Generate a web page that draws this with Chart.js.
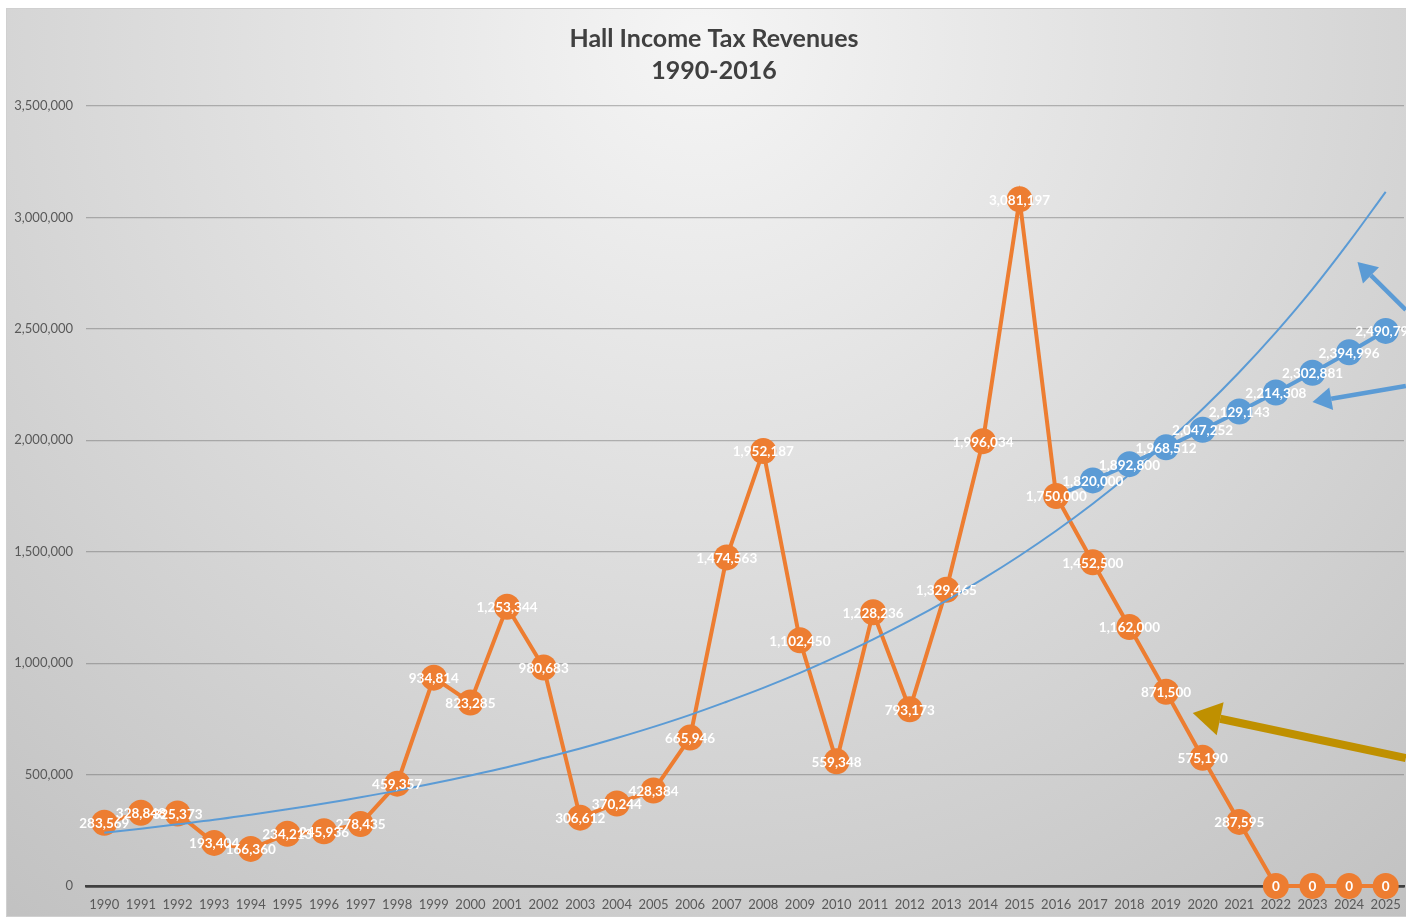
<!DOCTYPE html>
<html>
<head>
<meta charset="utf-8">
<title>Hall Income Tax Revenues</title>
<script src="https://cdn.jsdelivr.net/npm/chart.js@4/dist/chart.umd.min.js"></script>
<style>
  html, body { margin: 0; padding: 0; background: #fff; }
  #wrap { width: 1406px; height: 917px; }
</style>
</head>
<body>
<div id="wrap"><canvas id="hallChart" width="1406" height="917"></canvas></div>
<script>
// years on the category axis
const years = ['1990', '1991', '1992', '1993', '1994', '1995', '1996', '1997', '1998', '1999',
  '2000', '2001', '2002', '2003', '2004', '2005', '2006', '2007', '2008', '2009',
  '2010', '2011', '2012', '2013', '2014', '2015', '2016', '2017', '2018', '2019',
  '2020', '2021', '2022', '2023', '2024', '2025'];

// actual + phase-out revenues (orange)
const hallRevenue = [283569, 328848, 325373, 193404, 166360, 234213, 245936, 278435, 459357, 934814,
  823285, 1253344, 980683, 306612, 370244, 428384, 665946, 1474563, 1952187, 1102450,
  559348, 1228236, 793173, 1329465, 1996034, 3081197, 1750000, 1452500, 1162000, 871500,
  575190, 287595, 0, 0, 0, 0];

// projected revenues without phase-out (blue), starting from 2016
const projectedRevenue = [null, null, null, null, null, null, null, null, null, null,
  null, null, null, null, null, null, null, null, null, null,
  null, null, null, null, null, null, 1750000, 1820000, 1892800, 1968512,
  2047252, 2129143, 2214308, 2302881, 2394996, 2490796];

// trend line
const trendValues = [239000, 257000, 277000, 297000, 320000, 344000, 370000, 398000, 428000, 461000,
  496000, 533000, 574000, 617000, 664000, 714000, 768000, 827000, 889000, 956000,
  1029000, 1107000, 1191000, 1281000, 1378000, 1482000, 1594000, 1715000, 1846000, 1988000,
  2140000, 2305000, 2484000, 2678000, 2890000, 3115000];

const yMax = 3500000;
const yStep = 500000;
const titleLines = ['Hall Income Tax Revenues', '1990-2016'];

// annotation arrows, in (category index, value) coordinates
const arrows = [
  { from: [35.55, 2584600], to: [34.23, 2800000], color: '#5B9BD5', width: 4.5, head: 19 },
  { from: [35.55, 2243600], to: [33.0, 2171800], color: '#5B9BD5', width: 4.5, head: 19 },
  { from: [35.55, 574300], to: [29.73, 776300], color: '#BF9000', width: 8, head: 28 }
];

const fmt = v => Number(v).toLocaleString('en-US');

// gray gradient panel behind the chart, plus the two-line title
const panelBg = {
  id: 'panelBg',
  beforeDraw(chart) {
    const c = chart.ctx;
    c.save();
    c.fillStyle = '#ffffff';
    c.fillRect(0, 0, chart.width, chart.height);
    const g = c.createRadialGradient(700, 40, 0, 700, 40, 1150);
    g.addColorStop(0, '#f5f5f5');
    g.addColorStop(1, '#c0c0c0');
    c.fillStyle = g;
    c.fillRect(6, 8, chart.width - 6, chart.height - 9);
    c.strokeStyle = '#d0d0d0';
    c.lineWidth = 1;
    c.strokeRect(6.5, 8.5, chart.width - 6, chart.height - 9);

    c.fillStyle = '#404040';
    c.font = 'bold 25px Lato';
    c.textAlign = 'center';
    c.textBaseline = 'middle';
    c.fillText(titleLines[0], 714, 39);
    c.fillText(titleLines[1], 714, 71);
    c.restore();
  }
};

// white value labels centred on the markers
const valueLabels = {
  id: 'valueLabels',
  afterDatasetsDraw(chart) {
    const c = chart.ctx;
    c.save();
    c.font = 'bold 13.5px Lato';
    c.fillStyle = '#ffffff';
    c.textAlign = 'center';
    c.textBaseline = 'middle';
    chart.data.datasets.forEach((ds, i) => {
      if (!ds.showLabels) return;
      const meta = chart.getDatasetMeta(i);
      meta.data.forEach((pt, j) => {
        const v = ds.data[j];
        if (v === null || (ds.skipLabel && ds.skipLabel.includes(j))) return;
        c.fillText(fmt(v), pt.x, pt.y + 1);
      });
    });
    c.restore();
  }
};

// arrows drawn through the scales
const arrowLayer = {
  id: 'arrowLayer',
  afterDraw(chart) {
    const c = chart.ctx;
    const xs = chart.scales.x, ys = chart.scales.y;
    c.save();
    arrows.forEach(a => {
      const x1 = xs.getPixelForValue(a.from[0]), y1 = ys.getPixelForValue(a.from[1]);
      const x2 = xs.getPixelForValue(a.to[0]), y2 = ys.getPixelForValue(a.to[1]);
      const ang = Math.atan2(y2 - y1, x2 - x1);
      const bx = x2 - a.head * Math.cos(ang), by = y2 - a.head * Math.sin(ang);
      c.strokeStyle = a.color;
      c.fillStyle = a.color;
      c.lineWidth = a.width;
      c.beginPath();
      c.moveTo(x1, y1);
      c.lineTo(bx, by);
      c.stroke();
      const hw = a.head * 0.6;
      c.beginPath();
      c.moveTo(x2, y2);
      c.lineTo(bx + hw * Math.sin(ang), by - hw * Math.cos(ang));
      c.lineTo(bx - hw * Math.sin(ang), by + hw * Math.cos(ang));
      c.closePath();
      c.fill();
    });
    c.restore();
  }
};

const ctx = document.getElementById('hallChart').getContext('2d');
new Chart(ctx, {
  type: 'line',
  data: {
    labels: years,
    datasets: [
      {
        label: 'Trend',
        data: trendValues,
        borderColor: '#5B9BD5',
        borderWidth: 2,
        pointRadius: 0,
        tension: 0.4,
        order: 0
      },
      {
        label: 'Hall Income Tax Revenues',
        data: hallRevenue,
        borderColor: '#ED7D31',
        backgroundColor: '#ED7D31',
        borderWidth: 4,
        pointRadius: 13,
        pointBorderWidth: 0,
        showLabels: true,
        clip: false,
        order: 1
      },
      {
        label: 'Projected',
        data: projectedRevenue,
        borderColor: '#5B9BD5',
        backgroundColor: '#5B9BD5',
        borderWidth: 4,
        pointRadius: projectedRevenue.map((v, i) => i === 26 ? 0 : 13),
        pointBorderWidth: 0,
        showLabels: true,
        skipLabel: [26],
        clip: false,
        order: 2
      }
    ]
  },
  options: {
    responsive: false,
    animation: false,
    events: [],
    layout: { autoPadding: false, padding: { top: 106, right: 2, bottom: 0, left: 0 } },
    plugins: {
      legend: { display: false },
      tooltip: { enabled: false },
      title: { display: false }
    },
    scales: {
      x: {
        offset: true,
        grid: { display: false, drawTicks: false },
        border: { display: true, color: '#404040', width: 2.5 },
        ticks: { color: '#595959', font: { family: 'Lato', size: 13 }, padding: 11, maxRotation: 0, autoSkip: false },
        afterFit(scale) {
          scale.height = 31;
          scale.paddingLeft = 0;
          scale.paddingRight = 0;
        }
      },
      y: {
        min: 0,
        max: yMax,
        grid: {
          drawTicks: false,
          color: c => c.tick.value === 0 ? '#404040' : 'rgba(100,100,100,0.42)',
          lineWidth: c => c.tick.value === 0 ? 2.5 : 1.2
        },
        border: { display: false },
        ticks: {
          stepSize: yStep,
          color: '#595959',
          font: { family: 'Lato', size: 13 },
          padding: 13,
          callback: v => fmt(v)
        },
        afterFit(scale) { scale.width = 86; }
      }
    }
  },
  plugins: [panelBg, valueLabels, arrowLayer]
});
</script>
</body>
</html>
